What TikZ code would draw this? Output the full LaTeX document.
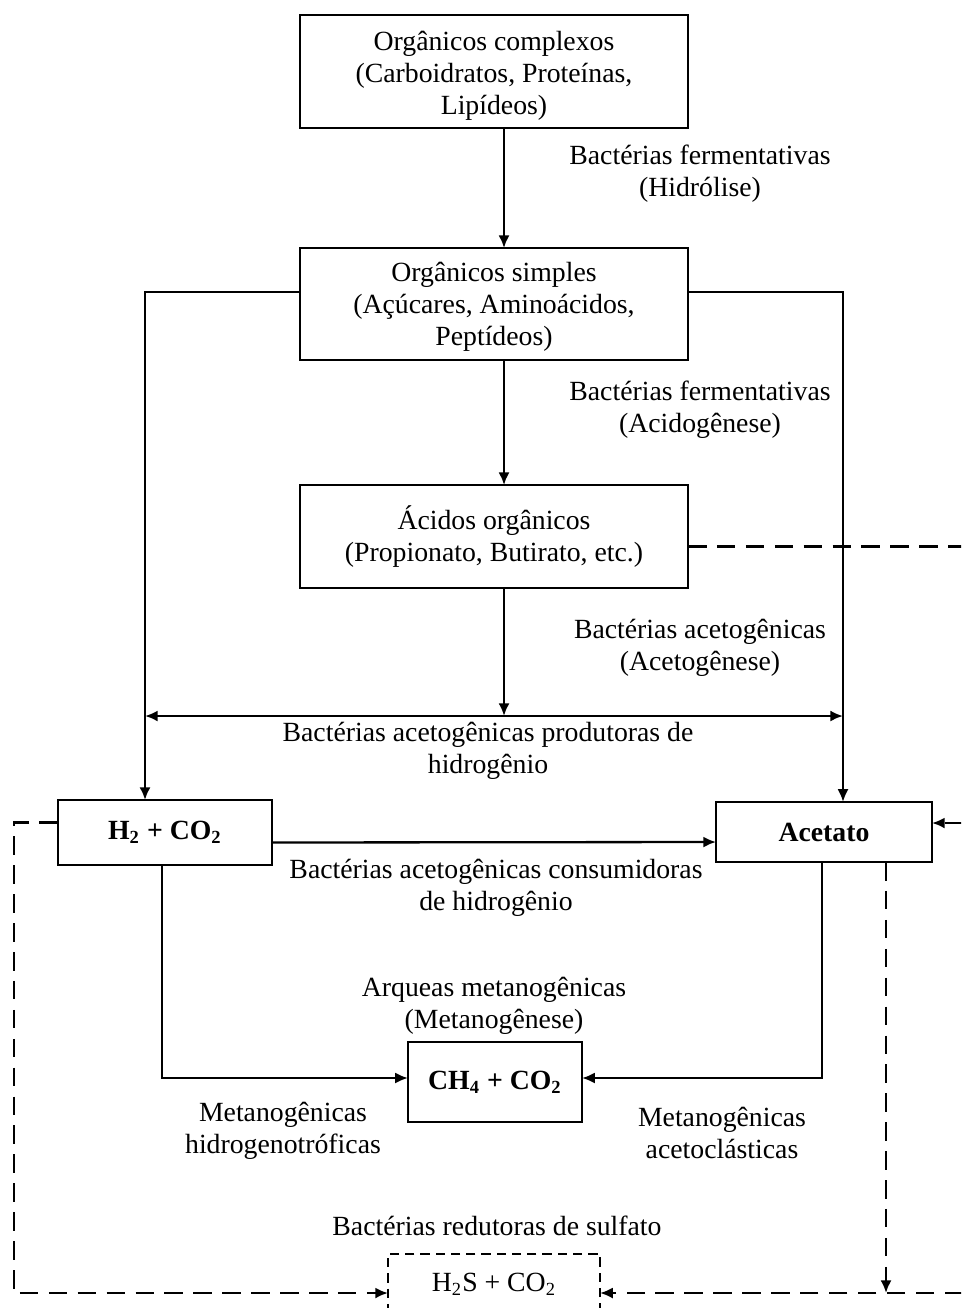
\documentclass[tikz,border=0pt]{standalone}
\usepackage{fontspec}
\setmainfont{Liberation Serif}
\usetikzlibrary{arrows.meta}

\tikzset{
  caixa/.style={draw, inner sep=0pt, outer sep=0pt, align=center},
  negrito/.style={font=\fontsize{12}{13.8}\selectfont\bfseries},
  tracejado/.style={dash pattern=on 8pt off 4.5pt},
  pontilhado/.style={dash pattern=on 4pt off 2.6pt}
}

\begin{document}
\begin{tikzpicture}[x=0.0152cm, y=-0.0152cm, line width=1pt,
  >={Latex[length=5.5pt,width=4.8pt]},
  every node/.style={font=\fontsize{12}{13.8}\selectfont, align=center}]
\clip (0,0) rectangle (961,1308);

% caixas
\node[caixa, minimum width=167.8pt, minimum height=48.9pt] (org1) at (494,71.5)
  {\rule{0pt}{12pt}Orgânicos complexos\\(Carboidratos, Proteínas,\\Lipídeos)};
\node[caixa, minimum width=167.8pt, minimum height=48.4pt] (org2) at (494,304)
  {\rule{0pt}{11pt}Orgânicos simples\\(Açúcares, Aminoácidos,\\Peptídeos)};
\node[caixa, minimum width=167.8pt, minimum height=44.5pt] (acid) at (494,536.5)
  {Ácidos orgânicos\\(Propionato, Butirato, etc.)};
\node[caixa, negrito, minimum width=92.6pt, minimum height=28.1pt] (h2) at (165,832.5)
  {H\textsubscript{2} + CO\textsubscript{2}};
\node[caixa, negrito, minimum width=93.4pt, minimum height=26pt] (acet) at (824,832)
  {Acetato};
\node[caixa, negrito, minimum width=75.3pt, minimum height=34.6pt] (ch4) at (495,1082)
  {CH\textsubscript{4} + CO\textsubscript{2}};
\node[caixa, pontilhado, minimum width=91.7pt, minimum height=26pt] (h2s) at (494,1284)
  {H\textsubscript{2}S + CO\textsubscript{2}};

% rotulos
\node (hidr) at (700,174) {Bactérias fermentativas\\(Hidrólise)};
\node (acdg) at (700,410) {Bactérias fermentativas\\(Acidogênese)};
\node (actg) at (700,648) {Bactérias acetogênicas\\(Acetogênese)};
\node (prod) at (488,751) {Bactérias acetogênicas produtoras de\\hidrogênio};
\node (cons) at (496,888) {Bactérias acetogênicas consumidoras\\de hidrogênio};
\node (meta) at (494,1006) {Arqueas metanogênicas\\(Metanogênese)};
\node (hgtr) at (283,1131) {Metanogênicas\\hidrogenotróficas};
\node (acls) at (722,1133) {Metanogênicas\\acetoclásticas};
\node (sulf) at (497,1226) {Bactérias redutoras de sulfato};

% pontos auxiliares
\coordinate (xa) at (504,0);
\coordinate (xl) at (145,716);
\coordinate (xr) at (843,716);
\coordinate (dl) at (14,1293);
\coordinate (dr) at (963,1293);
\coordinate (xd) at (886,1293);
\coordinate (ae) at ([shift={(0,-9)}]acet.east);

% setas
\draw[->] (xa |- org1.south) -- (xa |- org2.north);
\draw[->] (xa |- org2.south) -- (xa |- acid.north);
\draw[->] (xa |- acid.south) -- (xa |- xl);
\draw[->] ([shift={(0,-12)}]org2.west) -| (xl |- h2.north);
\draw[->] ([shift={(0,-12)}]org2.east) -| (xr |- acet.north);
\draw[<->] (xl) -- (xr);
\draw[->] ([shift={(0,10)}]h2.east) -- ([shift={(0,10)}]acet.west);
\draw[->] ([shift={(-3,0)}]h2.south) |- ([shift={(0,-4)}]ch4.west);
\draw[->] ([shift={(-2,0)}]acet.south) |- ([shift={(0,-4)}]ch4.east);

% via do sulfato
\draw[tracejado,->] ([shift={(0,-10)}]h2.west) -| (dl) -- ([shift={(0,9)}]h2s.west);
\draw[tracejado] ([shift={(0,10)}]acid.east) -| (dr);
\draw[tracejado,->] (dr |- ae) -- (ae);
\draw[tracejado,->] (dr) -- ([shift={(0,9)}]h2s.east);
\draw[tracejado,->] (xd |- acet.south) -- (xd);
\end{tikzpicture}
\end{document}
